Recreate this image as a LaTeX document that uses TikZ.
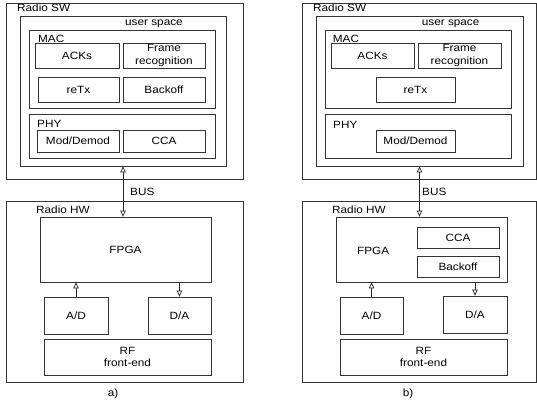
\documentclass[tikz,border=0pt]{standalone}
\usepackage{fontspec}
\setmainfont{Liberation Sans}[FakeStretch=1.12]
\usetikzlibrary{arrows.meta}
\begin{document}
\begin{tikzpicture}[x=1pt,y=-1pt,
  font=\fontsize{10.5}{12.5}\selectfont,
  every node/.style={text=black},
  blk/.style={draw=black!80, line width=0.7pt, inner sep=0pt, align=center},
  lbl/.style={inner sep=0pt, anchor=base west},
  bus/.style={draw=black!85, line width=0.7pt, >={Triangle[open,length=6pt,width=5.5pt]}}]
\useasboundingbox (0,0) rectangle (537,405);
% a)
\node[blk, minimum width=237, minimum height=176] (swA) at (124.5,91) {};
\node[lbl] (swAl) at (17,11.5) {Radio SW};
\node[blk, minimum width=206, minimum height=150] (usA) at (123,91) {};
\node[lbl] (usAl) at (125,25.7) {user space};
\node[blk, minimum width=186, minimum height=78] (macA) at (122,69) {};
\node[lbl] (macAl) at (38,42.7) {MAC};
\node[blk, minimum width=84, minimum height=25] (acksA) at (77,55.5) {ACKs};
\node[blk, minimum width=82, minimum height=25] (frameA) at (164,55.5) {Frame\\recognition};
\node[blk, minimum width=81, minimum height=25] (retxA) at (78.5,89.5) {reTx};
\node[blk, minimum width=82, minimum height=25] (backA) at (164,89.5) {Backoff};
\node[blk, minimum width=186, minimum height=44] (phyA) at (122,136) {};
\node[lbl] (phyAl) at (37,127.8) {PHY};
\node[blk, minimum width=82, minimum height=22] (modA) at (78,141) {Mod/Demod};
\node[blk, minimum width=82, minimum height=22] (ccaA) at (164,141) {CCA};
\node[blk, minimum width=237, minimum height=181] (hwA) at (124.5,291.5) {};
\node[lbl] (hwAl) at (36,213.3) {Radio HW};
\node[blk, minimum width=171, minimum height=65] (fpgaA) at (125.5,249.5) {FPGA};
\node[blk, minimum width=64, minimum height=37] (adA) at (76,315.5) {A/D};
\node[blk, minimum width=63, minimum height=37] (daA) at (179.5,315.5) {D/A};
\node[blk, minimum width=167, minimum height=36] (rfA) at (127.5,357) {RF\\front-end};
\node[lbl] (busAl) at (130,195) {BUS};
\node[inner sep=0pt, anchor=base] (capA) at (113,396.7) {a)};
\draw[bus, <->] (usA.south) -- (usA.south |- fpgaA.north);
\draw[bus, ->] (adA.north) -- (adA.north |- fpgaA.south);
\draw[bus, ->] (daA.north |- fpgaA.south) -- (daA.north);
% b)
\node[blk, minimum width=234, minimum height=176] (swB) at (419,91) {};
\node[lbl] (swBl) at (313,11.5) {Radio SW};
\node[blk, minimum width=207, minimum height=150] (usB) at (419.5,91) {};
\node[lbl] (usBl) at (421.7,25.7) {user space};
\node[blk, minimum width=186, minimum height=78] (macB) at (418,69) {};
\node[lbl] (macBl) at (332.7,42.7) {MAC};
\node[blk, minimum width=83, minimum height=25] (acksB) at (372.5,55.5) {ACKs};
\node[blk, minimum width=83, minimum height=25] (frameB) at (459.5,55.5) {Frame\\recognition};
\node[blk, minimum width=79, minimum height=25] (retxB) at (415.5,89.5) {reTx};
\node[blk, minimum width=186, minimum height=44] (phyB) at (418,136) {};
\node[lbl] (phyBl) at (333,128.5) {PHY};
\node[blk, minimum width=79, minimum height=22] (modB) at (415.5,141) {Mod/Demod};
\node[blk, minimum width=234, minimum height=181] (hwB) at (419,291.5) {};
\node[lbl] (hwBl) at (332,213.3) {Radio HW};
\node[blk, minimum width=171, minimum height=65] (fpgaB) at (421.5,249.5) {};
\node[lbl] (fpgaBl) at (357,254.3) {FPGA};
\node[blk, minimum width=82, minimum height=21] (ccaB) at (458,237.5) {CCA};
\node[blk, minimum width=82, minimum height=21] (backB) at (458,266.5) {Backoff};
\node[blk, minimum width=63, minimum height=37] (adB) at (371.5,315.5) {A/D};
\node[blk, minimum width=64, minimum height=37] (daB) at (475,314.5) {D/A};
\node[blk, minimum width=167, minimum height=36] (rfB) at (423.5,357) {RF\\front-end};
\node[lbl] (busBl) at (422,195) {BUS};
\node[inner sep=0pt, anchor=base] (capB) at (408,396.7) {b)};
\draw[bus, <->] (usB.south) -- (usB.south |- fpgaB.north);
\draw[bus, ->] (adB.north) -- (adB.north |- fpgaB.south);
\draw[bus, ->] (daB.north |- fpgaB.south) -- (daB.north);
\end{tikzpicture}
\end{document}
